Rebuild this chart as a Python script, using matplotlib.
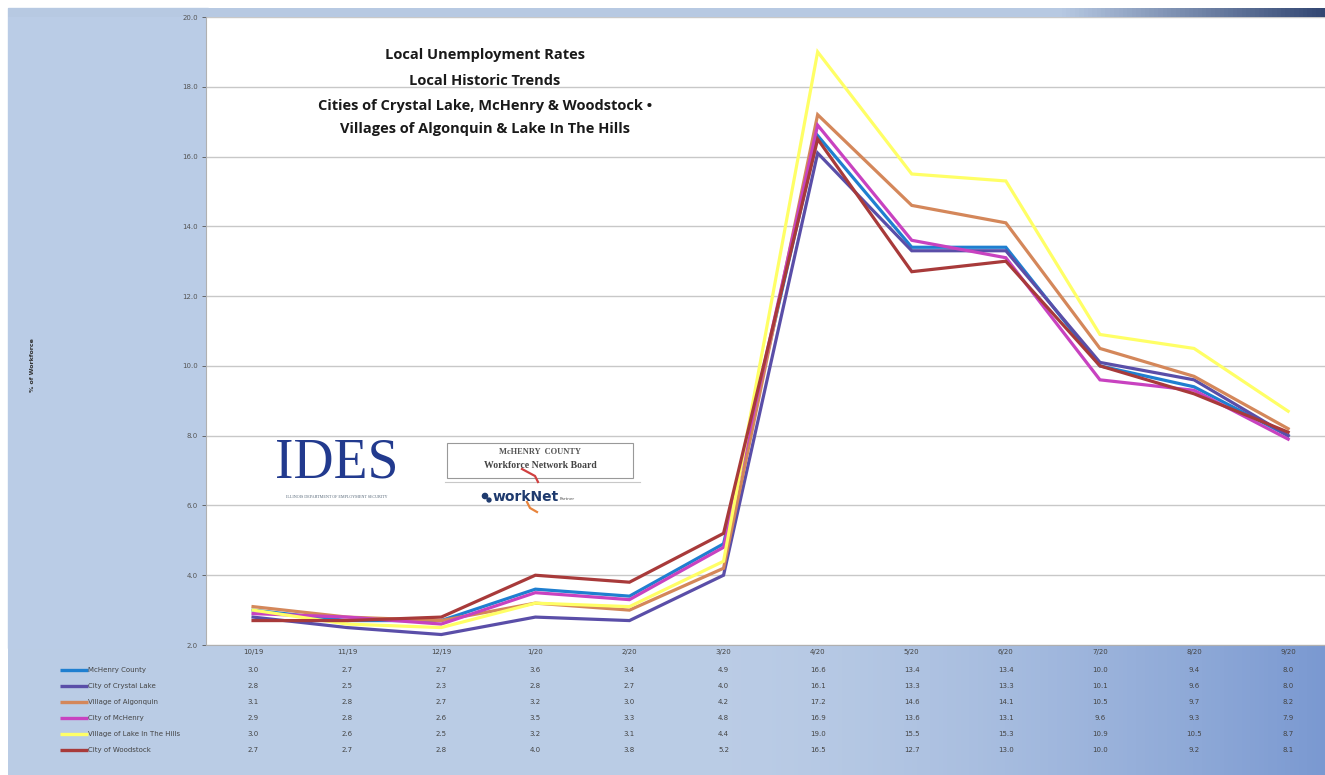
import numpy as np
import matplotlib.pyplot as plt
from matplotlib.patches import Rectangle
from matplotlib.transforms import blended_transform_factory

months = ['10/19', '11/19', '12/19', '1/20', '2/20', '3/20',
          '4/20', '5/20', '6/20', '7/20', '8/20', '9/20']

mchenry_county = [3.0, 2.7, 2.7, 3.6, 3.4, 4.9, 16.6, 13.4, 13.4, 10.0, 9.4, 8.0]
crystal_lake = [2.8, 2.5, 2.3, 2.8, 2.7, 4.0, 16.1, 13.3, 13.3, 10.1, 9.6, 8.0]
algonquin = [3.1, 2.8, 2.7, 3.2, 3.0, 4.2, 17.2, 14.6, 14.1, 10.5, 9.7, 8.2]
mchenry_city = [2.9, 2.8, 2.6, 3.5, 3.3, 4.8, 16.9, 13.6, 13.1, 9.6, 9.3, 7.9]
lake_in_the_hills = [3.0, 2.6, 2.5, 3.2, 3.1, 4.4, 19.0, 15.5, 15.3, 10.9, 10.5, 8.7]
woodstock = [2.7, 2.7, 2.8, 4.0, 3.8, 5.2, 16.5, 12.7, 13.0, 10.0, 9.2, 8.1]

series = [
    ('McHenry County', mchenry_county, '#1f7fd0'),
    ('City of Crystal Lake', crystal_lake, '#5a4ea8'),
    ('Village of Algonquin', algonquin, '#d4875a'),
    ('City of McHenry', mchenry_city, '#c842c0'),
    ('Village of Lake In The Hills', lake_in_the_hills, '#ffff66'),
    ('City of Woodstock', woodstock, '#a83a3a'),
]
# draw order: yellow behind, dark lines on top
draw_order = [4, 2, 3, 0, 1, 5]

W, H = 1325, 775
fig = plt.figure(figsize=(W / 100, H / 100), dpi=100)

# background panels (pixel coordinates)
bg = fig.add_axes([0, 0, 1, 1], zorder=0)
bg.set_xlim(0, W)
bg.set_ylim(H, 0)
bg.axis('off')
light = np.array([0.73, 0.80, 0.90])
dark = np.array([0.48, 0.60, 0.82])
grad = np.linspace(0, 1, 300)
g = np.clip((grad - 0.55) / 0.45, 0, 1) ** 1.5
row = light[None, :] * (1 - g[:, None]) + dark[None, :] * g[:, None]
bg.imshow(row[None, :, :], extent=(8, W, 775, 640), aspect='auto', zorder=0)
bg.add_patch(Rectangle((8, 8), 200, 640, color=tuple(light), zorder=1))
g2 = np.clip((grad - 0.8) / 0.2, 0, 1)
top_dark = np.array([0.20, 0.28, 0.45])
row2 = np.array([0.72, 0.79, 0.89])[None, :] * (1 - g2[:, None]) + top_dark[None, :] * g2[:, None]
bg.imshow(row2[None, :, :], extent=(8, W, 17, 8), aspect='auto', zorder=1)

# main chart
left, right, top, bottom = 206, W, 17, 645
ax = fig.add_axes([left / W, 1 - bottom / H, (right - left) / W, (bottom - top) / H], zorder=2)
x = np.arange(len(months))
unit = 94.1
ax.set_xlim(-0.5, -0.5 + (right - left) / unit)
ax.set_ylim(2, 20)
ax.set_facecolor('white')
ax.set_yticks(np.arange(2, 21, 2))
ax.set_yticklabels(['%.1f' % v for v in np.arange(2, 21, 2)])
ax.yaxis.grid(True, color='#c8c8c8', linewidth=1)
ax.set_axisbelow(True)
ax.set_xticks(x)
ax.set_xticklabels(months)
ax.tick_params(axis='y', labelsize=5, colors='#555555', length=3, width=0.6, pad=3)
ax.tick_params(axis='x', labelsize=5, colors='#444444', length=0, pad=3)
for s in ['top', 'right']:
    ax.spines[s].set_visible(False)
ax.spines['left'].set_color('#b0b0b0')
ax.spines['bottom'].set_color('#b0b0b0')

for i in draw_order:
    name, vals, col = series[i]
    ax.plot(x, vals, color=col, linewidth=2.3, solid_joinstyle='miter', zorder=3 + i)

title_lines = ['Local Unemployment Rates', 'Local Historic Trends',
               'Cities of Crystal Lake, McHenry & Woodstock \u2022',
               'Villages of Algonquin & Lake In The Hills']
for t, yy in zip(title_lines, [55, 81, 106, 129]):
    fig.text(485 / W, 1 - yy / H, t, ha='center', va='center', fontsize=10.5,
             fontweight='bold', family='Open Sans', color='#1a1a1a', zorder=10)

fig.text(33 / W, 1 - 365 / H, '% of Workforce', rotation=90, ha='center', va='center',
         fontsize=4.5, fontweight='bold', color='#333333')

# logos (text approximations), on an overlay above the chart
ov = fig.add_axes([0, 0, 1, 1], zorder=5)
ov.set_xlim(0, W)
ov.set_ylim(H, 0)
ov.axis('off')
ov.patch.set_alpha(0)
ov.text(337, 478, 'IDES', ha='center', va='baseline', fontsize=40,
        family='Liberation Serif', color='#223a8e')
ov.text(337, 497, 'ILLINOIS DEPARTMENT OF EMPLOYMENT SECURITY', ha='center',
        va='center', fontsize=3, family='Liberation Serif', color='#556677')
ov.add_patch(Rectangle((447, 443), 186, 35, fill=False, edgecolor='#999999', linewidth=0.8))
ov.plot([445, 640], [482, 482], color='#c8c8c8', linewidth=0.8)
ov.plot([522, 535, 538], [469, 476, 482], color='#d04040', linewidth=1.6)
ov.plot([527, 530, 537], [502, 508, 512], color='#e8843c', linewidth=1.6)
ov.text(540, 452, 'McHENRY  COUNTY', ha='center', va='center', fontsize=6,
        family='Liberation Serif', fontweight='bold', color='#555555')
ov.text(540, 466, 'Workforce Network Board', ha='center', va='center', fontsize=7,
        family='Liberation Serif', fontweight='bold', color='#444444')
ov.scatter([485, 489], [496, 500], s=[14, 8], color='#1e3a6e')
ov.text(493, 497, 'workNet', ha='left', va='center', fontsize=10, fontweight='bold',
        color='#1e3a6e')
ov.text(560, 499, 'Partner', ha='left', va='center', fontsize=3, color='#555555')

# data table under the chart
tr = blended_transform_factory(ax.transData, fig.transFigure)
row_y = [670, 686, 702, 718, 734, 750]
for (name, vals, col), yy in zip(series, row_y):
    yf = 1 - yy / H
    bg.plot([60, 88], [yy, yy], color=col, linewidth=2.4, solid_capstyle='butt', zorder=3)
    fig.text(88 / W, yf, name, ha='left', va='center', fontsize=5, color='#444444')
    for xi, v in zip(x, vals):
        fig.text(xi, yf, '%.1f' % v, ha='center', va='center', fontsize=5,
                 color='#444444', transform=tr)

fig.savefig('out.png', dpi=100)
